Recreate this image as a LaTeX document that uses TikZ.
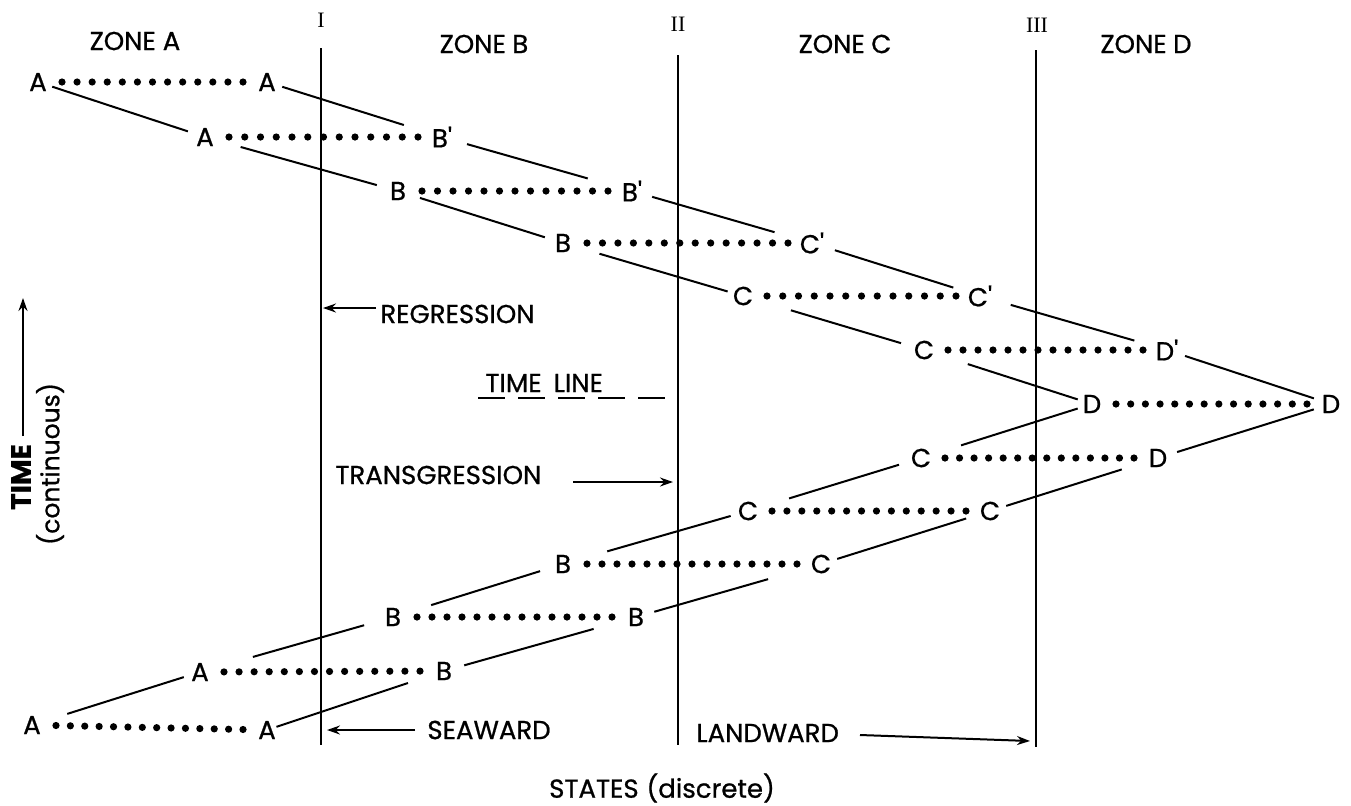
\documentclass[tikz,border=0pt]{standalone}
\usepackage{fontspec}
\newfontfamily\fut{Poppins}[RawFeature={embolden=0.8}]
\newfontfamily\ser{Liberation Serif}
\usetikzlibrary{calc,arrows.meta}
\tikzset{
  lt/.style={font=\fut\fontsize{13}{13}\selectfont, inner sep=0pt},
  lbl/.style={font=\fut\fontsize{13}{13}\selectfont, inner sep=0pt},
  num/.style={font=\ser\fontsize{11}{11}\selectfont, inner sep=0pt},
  tl/.style={line width=1pt},
  vl/.style={line width=1.1pt},
  arr/.style={line width=1pt, -{Stealth[length=6.5pt,width=4.5pt]}},
}
\newcommand\conn[4]{\draw[tl, shorten <=#3pt, shorten >=#4pt] (#1.center) -- (#2.center);}
\newcommand\dotrun[3]{%
  \coordinate (ds) at ($(#1.center)!12pt!(#2.center)$);
  \coordinate (de) at ($(#2.center)!12pt!(#1.center)$);
  \foreach \k in {0,...,#3}{\fill ($(ds)!\k/#3!(de)$) circle (1.8pt);}%
}
\begin{document}
\begin{tikzpicture}[x=0.5pt,y=-0.5pt]
\useasboundingbox (0,0) rectangle (1351,805);
% zone labels
\node[lbl] (za) at (135,41) {ZONE A};
\node[lbl] (zb) at (484,44) {ZONE\hspace{0.25em}B};
\node[lbl] (zc) at (845,44) {ZONE\hspace{0.25em}C};
\node[lbl] (zd) at (1146,44) {ZONE\hspace{0.25em}D};
% numerals and boundary lines
\node[num] (n1) at (321,20) {I};
\node[num] (n2) at (678,24) {II};
\node[num] (n3) at (1037,25) {III};
\coordinate (v1t) at (321,48);  \coordinate (v1b) at (321,745);
\coordinate (v2t) at (678,55);  \coordinate (v2b) at (678,745);
\coordinate (v3t) at (1036,50); \coordinate (v3b) at (1036,747);
\draw[vl] (v1t) -- (v1b);
\draw[line width=1.4pt] (v2t) -- (v2b);
\draw[line width=0.8pt] (v3t) -- (v3b);
% letters
\node[lt] (r1a) at (38,82) {A};    \node[lt] (r1b) at (267,82) {A};
\node[lt] (r2a) at (205,137) {A};  \node[lt] (r2b) at (442,137) {B'};
\node[lt] (r3a) at (398,191) {B};  \node[lt] (r3b) at (632,191) {B'};
\node[lt] (r4a) at (563,243) {B};  \node[lt] (r4b) at (812,243) {C'};
\node[lt] (r5a) at (743,296) {C};  \node[lt] (r5b) at (980,296) {C'};
\node[lt] (r6a) at (924,350) {C};  \node[lt] (r6b) at (1167,350) {D'};
\node[lt] (r7a) at (1092,404) {D}; \node[lt] (r7b) at (1331,404) {D};
\node[lt] (r8a) at (921,458) {C};  \node[lt] (r8b) at (1158,458) {D};
\node[lt] (r9a) at (748,511) {C};  \node[lt] (r9b) at (990,511) {C};
\node[lt] (r10a) at (563,564) {B}; \node[lt] (r10b) at (821,564) {C};
\node[lt] (r11a) at (393,617) {B}; \node[lt] (r11b) at (636,617) {B};
\node[lt] (r12a) at (200,672) {A}; \node[lt] (r12b) at (444,671) {B};
\node[lt] (r13a) at (32,725) {A};  \node[lt] (r13b) at (267,730) {A};
% dotted rows
\dotrun{r1a}{r1b}{12}
\dotrun{r2a}{r2b}{12}
\dotrun{r3a}{r3b}{12}
\dotrun{r4a}{r4b}{13}
\dotrun{r5a}{r5b}{12}
\dotrun{r6a}{r6b}{13}
\dotrun{r7a}{r7b}{13}
\dotrun{r8a}{r8b}{13}
\dotrun{r9a}{r9b}{13}
\dotrun{r10a}{r10b}{14}
\dotrun{r11a}{r11b}{13}
\dotrun{r12a}{r12b}{13}
\dotrun{r13a}{r13b}{13}
% connecting lines
\conn{r1a}{r2a}{7.5}{9}
\conn{r1b}{r2b}{8}{20}
\conn{r2a}{r3a}{18.5}{11}
\conn{r2b}{r3b}{13}{23}
\conn{r3a}{r4a}{11.5}{9.5}
\conn{r3b}{r4b}{10.5}{19.5}
\conn{r4a}{r5a}{19}{8}
\conn{r4b}{r5b}{12}{14}
\conn{r5a}{r6a}{25}{12}
\conn{r5b}{r6b}{16}{17}
\conn{r6a}{r7a}{23}{7.5}
\conn{r6b}{r7b}{9.5}{9}
\conn{r7a}{r8a}{7.5}{21}
\conn{r7b}{r8b}{9}{10}
\conn{r8a}{r9a}{11.5}{21.5}
\conn{r8b}{r9b}{19}{8.5}
\conn{r9a}{r10a}{9}{23}
\conn{r9b}{r10b}{12.5}{8.5}
\conn{r10a}{r11a}{12}{20}
\conn{r10b}{r11b}{27.5}{9.5}
\conn{r11a}{r12a}{15}{27.5}
\conn{r11b}{r12b}{22}{10.5}
\conn{r12a}{r13a}{8.5}{18.5}
\conn{r12b}{r13b}{19}{5}
% annotations
\node[lbl, anchor=west] (reg) at (380,314) {REGRESSION};
\coordinate (regt) at (323,308);
\draw[arr] ([xshift=-2pt]reg.west |- 0,308) -- (regt);
\node[lbl, anchor=west] (tln) at (485,383) {TIME\hspace{0.2em} LINE};
\coordinate (tls) at (478,398); \coordinate (tle) at (667,398);
\draw[line width=0.9pt, dash pattern=on 13.5pt off 6.5pt] (tls) -- (tle);
\node[lbl, anchor=west] (tra) at (335,475) {TRANSGRESSION};
\coordinate (tras) at (573,482); \coordinate (trae) at (673,482);
\draw[arr] (tras) -- (trae);
\node[lbl, anchor=west] (sea) at (427,730) {SEAWARD};
\coordinate (seas) at (415,730); \coordinate (seae) at (327,730);
\draw[arr] (seas) -- (seae);
\node[lbl, anchor=west] (land) at (696,733) {LANDWARD};
\coordinate (lands) at (860,735); \coordinate (lande) at (1030,741);
\draw[arr] (lands) -- (lande);
\node[lbl] (states) at (662,788) {STATES\hspace{0.3em}(discrete)};
% time axis
\node[font=\fut\bfseries\fontsize{14}{14}\selectfont, inner sep=0pt, rotate=90] (time) at (21,477) {TIME};
\node[font=\fut\fontsize{12.5}{12.5}\selectfont, inner sep=0pt, rotate=90] (cont) at (50,464) {(continuous)};
\coordinate (tas) at (23,436); \coordinate (tae) at (23,298);
\draw[arr] (tas) -- (tae);
\end{tikzpicture}
\end{document}
